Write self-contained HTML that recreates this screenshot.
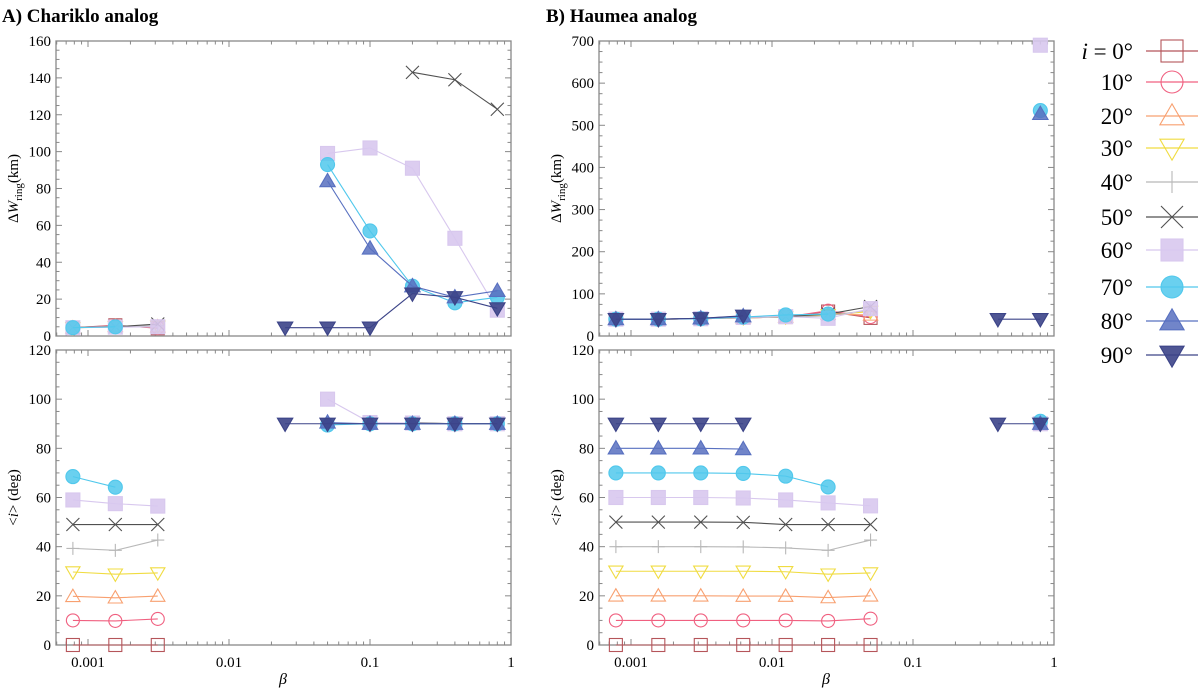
<!DOCTYPE html>
<html><head><meta charset="utf-8"><style>
body{margin:0;background:#fff;}
svg{display:block;font-family:"Liberation Serif",serif;}
</style></head><body>
<svg id="fig" width="1200" height="688" viewBox="0 0 1200 688" xmlns="http://www.w3.org/2000/svg">
<text x="2" y="22" font-size="19" font-weight="bold">A) Chariklo analog</text>
<text x="546" y="22" font-size="19" font-weight="bold">B) Haumea analog</text>
</svg>
<script>
// ---- data ----
const seriesLabels = ["0","10","20","30","40","50","60","70","80","90"];
const seriesColors = ["#b5555a","#f06080","#f8a070","#f0dc40","#b8b8b8","#505050","#d8c8ee","#50c8ec","#5870c0","#3c4488"];
const seriesShapes = ["sq","ci","tu","td","plus","x","sqf","cif","tuf","tdf"];
// Chariklo dW (km): arrays of [beta, value]
const aW0=[[0.00078125,4.5],[0.0015625,5.8],[0.003125,4.2]];
const aW10=[[0.00078125,4.6],[0.0015625,5.5],[0.003125,4.5]];
const aW20=[[0.00078125,4.5],[0.0015625,5.2],[0.003125,5.0]];
const aW30=[[0.00078125,4.4],[0.0015625,5.0],[0.003125,5.2]];
const aW40=[[0.00078125,4.5],[0.0015625,5.0],[0.003125,5.5]];
const aW50=[[0.00078125,4.6],[0.0015625,5.0],[0.003125,6.5],[0.2,143],[0.4,139],[0.8,123]];
const aW60=[[0.00078125,4.5],[0.0015625,4.8],[0.003125,5.0],[0.05,99],[0.1,102],[0.2,91],[0.4,53],[0.8,14]];
const aW70=[[0.00078125,4.5],[0.0015625,5.0],[0.05,93],[0.1,57],[0.2,27],[0.4,18],[0.8,21]];
const aW80=[[0.05,84],[0.1,47.5],[0.2,27],[0.4,21],[0.8,24.5]];
const aW90=[[0.025,4.5],[0.05,4.5],[0.1,4.5],[0.2,23],[0.4,21],[0.8,15]];
// Chariklo <i> (deg)
const aI0=[[0.00078125,0],[0.0015625,0],[0.003125,0]];
const aI10=[[0.00078125,10],[0.0015625,9.8],[0.003125,10.6]];
const aI20=[[0.00078125,19.8],[0.0015625,19.2],[0.003125,19.9]];
const aI30=[[0.00078125,29.7],[0.0015625,28.8],[0.003125,29.3]];
const aI40=[[0.00078125,39.3],[0.0015625,38.5],[0.003125,42.7]];
const aI50=[[0.00078125,49],[0.0015625,49],[0.003125,49],[0.2,90.5],[0.4,90],[0.8,90]];
const aI60=[[0.00078125,59],[0.0015625,57.5],[0.003125,56.5],[0.05,100],[0.1,90.5],[0.2,90.3],[0.4,90],[0.8,90]];
const aI70=[[0.00078125,68.5],[0.0015625,64.2],[0.05,89.5],[0.1,90],[0.2,90],[0.4,90],[0.8,90]];
const aI80=[[0.05,90.5],[0.1,90],[0.2,90],[0.4,90],[0.8,90]];
const aI90=[[0.025,90],[0.05,90],[0.1,90],[0.2,90],[0.4,90],[0.8,90]];
// Haumea dW (km)
const bW0=[[0.00078125,40],[0.0015625,40],[0.003125,41],[0.00625,43],[0.0125,45],[0.025,58],[0.05,43]];
const bW10=[[0.00078125,40],[0.0015625,40],[0.003125,41],[0.00625,43],[0.0125,45],[0.025,60],[0.05,45]];
const bW20=[[0.00078125,40],[0.0015625,40],[0.003125,41],[0.00625,43],[0.0125,45],[0.025,52],[0.05,50]];
const bW30=[[0.00078125,40],[0.0015625,40],[0.003125,41],[0.00625,43],[0.0125,45],[0.025,50],[0.05,58]];
const bW40=[[0.00078125,40],[0.0015625,40],[0.003125,41],[0.00625,43],[0.0125,45],[0.025,48],[0.05,62]];
const bW50=[[0.00078125,40],[0.0015625,40],[0.003125,41],[0.00625,44],[0.0125,46],[0.025,52],[0.05,70]];
const bW60=[[0.00078125,40],[0.0015625,40],[0.003125,41],[0.00625,44],[0.0125,46],[0.025,42],[0.05,65],[0.8,690]];
const bW70=[[0.00078125,40],[0.0015625,40],[0.003125,41],[0.00625,45],[0.0125,50],[0.025,52],[0.8,535]];
const bW80=[[0.00078125,40],[0.0015625,40],[0.003125,42],[0.00625,47],[0.8,527]];
const bW90=[[0.00078125,40],[0.0015625,40],[0.003125,42],[0.00625,48],[0.4,40],[0.8,40]];
// Haumea <i> (deg)
const bI0=[[0.00078125,0],[0.0015625,0],[0.003125,0],[0.00625,0],[0.0125,0],[0.025,0],[0.05,0]];
const bI10=[[0.00078125,10],[0.0015625,10],[0.003125,10],[0.00625,10],[0.0125,10],[0.025,9.8],[0.05,10.7]];
const bI20=[[0.00078125,20],[0.0015625,20],[0.003125,20],[0.00625,19.9],[0.0125,19.9],[0.025,19.3],[0.05,20]];
const bI30=[[0.00078125,30],[0.0015625,30],[0.003125,30],[0.00625,30],[0.0125,29.8],[0.025,28.8],[0.05,29.3]];
const bI40=[[0.00078125,40],[0.0015625,40],[0.003125,40],[0.00625,39.9],[0.0125,39.5],[0.025,38.5],[0.05,42.7]];
const bI50=[[0.00078125,50],[0.0015625,50],[0.003125,50],[0.00625,49.9],[0.0125,49],[0.025,49],[0.05,49]];
const bI60=[[0.00078125,60],[0.0015625,60],[0.003125,60],[0.00625,59.8],[0.0125,59],[0.025,57.8],[0.05,56.6],[0.8,90]];
const bI70=[[0.00078125,70],[0.0015625,70],[0.003125,70],[0.00625,69.8],[0.0125,68.7],[0.025,64.3],[0.8,91]];
const bI80=[[0.00078125,80],[0.0015625,80],[0.003125,80],[0.00625,79.7],[0.8,90]];
const bI90=[[0.00078125,90],[0.0015625,90],[0.003125,90],[0.00625,90],[0.4,90],[0.8,90]];
const xTickLabels=["0.001","0.01","0.1","1"];
const xTickValues=[0.001,0.01,0.1,1];

const NS="http://www.w3.org/2000/svg";
const svg=document.getElementById('fig');
function mk(tag,attrs,parent){const e=document.createElementNS(NS,tag);for(const k in attrs)e.setAttribute(k,attrs[k]);(parent||svg).appendChild(e);return e;}

function marker(g,shape,cx,cy,col,s){
  let e;
  const r=s;
  if(shape==='sq'||shape==='sqf'){e=mk('rect',{x:cx-r,y:cy-r,width:2*r,height:2*r,fill:shape==='sqf'?col:'#fff','fill-opacity':shape==='sqf'?0.9:0,stroke:col,'stroke-width':1.1},g);}
  else if(shape==='ci'||shape==='cif'){e=mk('circle',{cx:cx,cy:cy,r:r,fill:shape==='cif'?col:'none','fill-opacity':0.85,stroke:col,'stroke-width':1.1},g);}
  else if(shape==='tu'||shape==='tuf'){e=mk('polygon',{points:`${cx},${cy-r*1.1} ${cx-r*1.1},${cy+r*0.8} ${cx+r*1.1},${cy+r*0.8}`,fill:shape==='tuf'?col:'none','fill-opacity':0.85,stroke:col,'stroke-width':1.1},g);}
  else if(shape==='td'||shape==='tdf'){e=mk('polygon',{points:`${cx},${cy+r*1.1} ${cx-r*1.1},${cy-r*0.8} ${cx+r*1.1},${cy-r*0.8}`,fill:shape==='tdf'?col:'none','fill-opacity':0.9,stroke:col,'stroke-width':1.1},g);}
  else if(shape==='plus'){e=mk('path',{d:`M${cx-r} ${cy}H${cx+r}M${cx} ${cy-r}V${cy+r}`,stroke:col,'stroke-width':1.1,fill:'none'},g);}
  else {e=mk('path',{d:`M${cx-r} ${cy-r}L${cx+r} ${cy+r}M${cx-r} ${cy+r}L${cx+r} ${cy-r}`,stroke:col,'stroke-width':1.1,fill:'none'},g);}
  
  
}

function panel(name,x0,x1,y0,y1,ymax,ystep,yminor,series,ylabel,showX){
  const g=mk('g',{});
  
  
  const lmin=-3-32/141;
  const X=b=>x0+(Math.log10(b)-lmin)*141;
  const Y=v=>y1-(v/ymax)*(y1-y0);
  mk('rect',{x:x0,y:y0,width:x1-x0,height:y1-y0,fill:'none',stroke:'#888','stroke-width':1.3},g);
  for(let e=-4;e<=0;e++){for(let m=1;m<10;m++){const v=m*Math.pow(10,e);const xx=X(v);if(xx<x0-0.1||xx>x1+0.1)continue;const L=m===1?6:3.5;
    mk('line',{x1:xx,x2:xx,y1:y1,y2:y1-L,stroke:'#888','stroke-width':1},g);mk('line',{x1:xx,x2:xx,y1:y0,y2:y0+L,stroke:'#888','stroke-width':1},g);}}
  if(showX){xTickValues.forEach((v,i)=>{const t=mk('text',{x:X(v),y:y1+22,'font-size':15,'text-anchor':'middle'},g);t.textContent=xTickLabels[i];});}
  for(let v=0;v<=ymax+0.01;v+=yminor){const yy=Y(v);const major=Math.abs(v/ystep-Math.round(v/ystep))<1e-6;const L=major?6:3.5;
    mk('line',{x1:x0,x2:x0+L,y1:yy,y2:yy,stroke:'#888','stroke-width':1},g);mk('line',{x1:x1,x2:x1-L,y1:yy,y2:yy,stroke:'#888','stroke-width':1},g);
    if(major){const t=mk('text',{x:x0-5,y:yy+5,'font-size':15,'text-anchor':'end'},g);t.textContent=Math.round(v);}}
  const cy=(y0+y1)/2, lx=x0-38;
  const yl=mk('text',{x:0,y:0,'font-size':15,'text-anchor':'middle',transform:`translate(${lx},${cy}) rotate(-90)`},g);
  
  if(ylabel==='W'){yl.innerHTML='Δ<tspan font-style="italic">W</tspan><tspan font-size="11" dy="4">ring</tspan><tspan dy="-4">(km)</tspan>';}
  else{yl.innerHTML='&lt;<tspan font-style="italic">i</tspan>&gt; (deg)';}
  series.forEach((d,k)=>{
    const col=seriesColors[k];
    const sg=mk('g',{},g);
    
    
    // split into contiguous segments (break where beta jumps by more than 2.5x)
    let seg=[];
    const flush=()=>{if(seg.length>1){const pl=mk('polyline',{points:seg.map(p=>X(p[0])+','+Y(p[1])).join(' '),fill:'none',stroke:col,'stroke-width':1.1},sg);}seg=[];};
    d.forEach((p,i)=>{if(i>0&&p[0]/d[i-1][0]>2.5)flush();seg.push(p);});
    flush();
    const s=(seriesShapes[k].endsWith('f'))?7:6.5;
    d.forEach(p=>marker(sg,seriesShapes[k],X(p[0]),Y(p[1]),col,s));
  });
}
panel('chariklo-width-plot',56,511,41,336,160,20,5,[aW0,aW10,aW20,aW30,aW40,aW50,aW60,aW70,aW80,aW90],'W',false);
panel('chariklo-inclination-plot',56,511,350,645,120,20,5,[aI0,aI10,aI20,aI30,aI40,aI50,aI60,aI70,aI80,aI90],'I',true);
panel('haumea-width-plot',599,1054,41,336,700,100,25,[bW0,bW10,bW20,bW30,bW40,bW50,bW60,bW70,bW80,bW90],'W',false);
panel('haumea-inclination-plot',599,1054,350,645,120,20,5,[bI0,bI10,bI20,bI30,bI40,bI50,bI60,bI70,bI80,bI90],'I',true);
[283,826].forEach(x=>{const t=mk('text',{x:x,y:684,'font-size':16,'font-style':'italic','text-anchor':'middle'});t.textContent='β';});
const lg=mk('g',{});


const legY=[51,82,116,148,182,217,250,287,321,355];
seriesLabels.forEach((lab,k)=>{
  const eg=mk('g',{},lg);
  
  
  const t=mk('text',{x:1133,y:legY[k]+8,'font-size':23,'text-anchor':'end'},eg);
  t.innerHTML=k===0?'<tspan font-style="italic">i</tspan> = 0°':lab+'°';
  mk('line',{x1:1146,x2:1198,y1:legY[k],y2:legY[k],stroke:seriesColors[k],'stroke-width':1.3},eg);
  marker(eg,seriesShapes[k],1172,legY[k],seriesColors[k],11);
});
</script>
</body></html>
